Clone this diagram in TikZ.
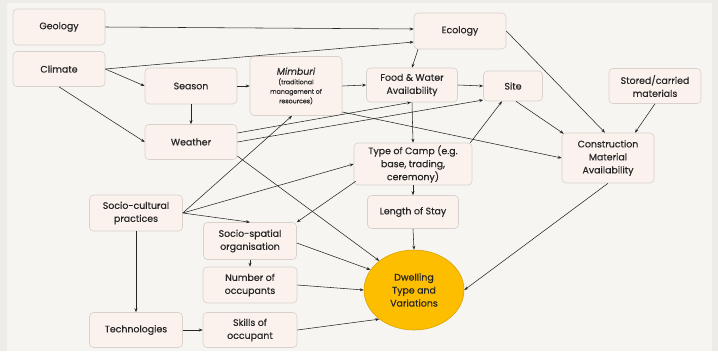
\documentclass[tikz,border=0pt]{standalone}
\usepackage{fontspec}
\setmainfont{Poppins}[FakeBold=0.35]
\usetikzlibrary{shapes.geometric,arrows.meta,calc}
\definecolor{bg}{HTML}{F6F5F2}
\definecolor{edgebg}{HTML}{EDECE8}
\definecolor{boxfill}{HTML}{FBF2EE}
\definecolor{boxline}{HTML}{D8D0CA}
\definecolor{txt}{HTML}{262626}
\definecolor{dwfill}{HTML}{FDBE00}
\definecolor{dwline}{HTML}{D9A300}
\begin{document}
\begin{tikzpicture}[x=1pt,y=-1pt,
  box/.style={draw=boxline,fill=boxfill,rounded corners=4pt,align=center,
    font=\fontsize{9.4}{13}\selectfont,text=txt,inner sep=1pt,line width=0.6pt},
  conn/.style={-{Stealth[length=4pt,width=3pt]},line width=0.55pt,draw=black!85}]
\fill[edgebg] (0,0) rectangle (718,351);
\fill[bg] (7,3) rectangle (712,351);
\useasboundingbox (0,0) rectangle (718,351);

\node[box,minimum width=92pt,minimum height=36pt] (geo) at (59,27) {Geology};
\node[box,minimum width=92pt,minimum height=35pt] (cli) at (59,69) {Climate};
\node[box,minimum width=92pt,minimum height=36pt] (sea) at (191,86) {Season};
\node[box,minimum width=92pt,minimum height=35pt] (wea) at (191,142) {Weather};
\node[box,minimum width=92pt,minimum height=59pt,font=\fontsize{6.3}{9.5}\selectfont] (mim) at (296,86)
  {{\fontsize{9.4}{11}\selectfont\itshape Mimburi}\\(traditional\\management of\\resources)};
\node[box,minimum width=92pt,minimum height=36pt] (eco) at (460,31) {Ecology};
\node[box,minimum width=91pt,minimum height=34pt] (fw) at (412,85) {Food \& Water\\Availability};
\node[box,minimum width=59pt,minimum height=30pt] (site) at (513,86) {Site};
\node[box,minimum width=92pt,minimum height=35pt] (sto) at (655,86) {Stored/carried\\materials};
\node[box,minimum width=92pt,minimum height=50pt] (con) at (608,158) {Construction\\Material\\Availability};
\node[box,minimum width=118pt,minimum height=42pt] (camp) at (413,164) {Type of Camp (e.g.\\base, trading,\\ceremony)};
\node[box,minimum width=91pt,minimum height=33pt] (len) at (413,212) {Length of Stay};
\node[ellipse,draw=dwline,fill=dwfill,minimum width=100pt,minimum height=80pt,inner sep=0pt,
  align=center,font=\fontsize{9.4}{13}\selectfont,text=txt,line width=0.6pt] (dw) at (414,290) {Dwelling\\Type and\\Variations};
\node[box,minimum width=93pt,minimum height=36pt] (soc) at (136,213) {Socio-cultural\\practices};
\node[box,minimum width=93pt,minimum height=37pt] (sp) at (250,241) {Socio-spatial\\organisation};
\node[box,minimum width=94pt,minimum height=36pt] (num) at (250,285) {Number of\\occupants};
\node[box,minimum width=93pt,minimum height=35pt] (tec) at (136,330) {Technologies};
\node[box,minimum width=94pt,minimum height=35pt] (sk) at (250,330) {Skills of\\occupant};

\draw[conn] (geo.east) -- ($(eco.west)+(0,-2)$);
\draw[conn] (cli.east) -- ($(eco.west)+(0,11)$);
\draw[conn] (cli.east) -- (sea.west);
\draw[conn] (cli.south) -- (wea.west);
\draw[conn] (sea.east) -- (mim.west);
\draw[conn] (sea.south) -- (wea.north);
\draw[conn] (mim.east) -- (fw.west);
\draw[conn] ($(mim.east)+(0,26)$) -- (con.west);
\draw[conn] ($(eco.south)+(-42,0)$) -- (fw.north);
\draw[conn] (eco.east) -- ($(con.north)+(-3,0)$);
\draw[conn] (fw.east) -- (site.west);
\draw[conn] (fw.south) -- (camp.north);
\draw[conn] ($(wea.east)+(0,-9)$) -- ($(fw.south)+(-1,0)$);
\draw[conn] (wea.east) -- ($(site.west)+(0,14)$);
\draw[conn] ($(wea.east)+(0,14)$) -- (dw.140);
\draw[conn] ($(site.south)+(3,0)$) -- ($(con.north west)+(2,1)$);
\draw[conn] (sto.south) -- ($(con.north)+(27,0)$);
\draw[conn] (con.south) -- (dw.east);
\draw[conn] ($(camp.north east)+(-2,0)$) -- ($(site.south)+(-11,0)$);
\draw[conn] (camp.south) -- (len.north);
\draw[conn] ($(camp.south west)+(2,-4)$) -- (sp.north east);
\draw[conn] (len.south) -- (dw.north);
\draw[conn] (soc.east) -- ($(mim.south)+(-4,0)$);
\draw[conn] (soc.east) -- (camp.west);
\draw[conn] (soc.east) -- (sp.north);
\draw[conn] (soc.south) -- (tec.north);
\draw[conn] (sp.south) -- (num.north);
\draw[conn] ($(sp.east)+(0,2)$) -- (dw.155);
\draw[conn] (num.east) -- (dw.west);
\draw[conn] (tec.east) -- (sk.west);
\draw[conn] (sk.east) -- (dw.220);
\end{tikzpicture}
\end{document}
